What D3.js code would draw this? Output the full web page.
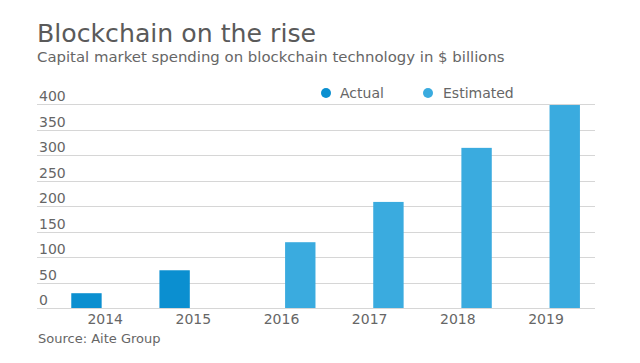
<!DOCTYPE html>
<html>
<head>
<meta charset="utf-8">
<script src="https://cdn.jsdelivr.net/npm/d3@7"></script>
<style>
  html, body { margin: 0; padding: 0; background: #fff; }
  svg { display: block; font-family: "DejaVu Sans", Verdana, sans-serif; }
</style>
</head>
<body>
<svg id="chart" width="640" height="363"></svg>
<script>
// --- Data ---
const years = ['2014', '2015', '2016', '2017', '2018', '2019'];
const series = ['Actual', 'Estimated'];
const actual = [29, 74, null, null, null, null];
const estimated = [null, null, 129, 208, 314, 398];
const yTicks = [0, 50, 100, 150, 200, 250, 300, 350, 400];
const colors = { Actual: '#0b8fd0', Estimated: '#3aabdf' };

const plot = { left: 37, right: 595, top: 104, bottom: 308 };

const svg = d3.select('#chart');

// --- Titles ---
svg.append('text')
  .attr('x', 37).attr('y', 42)
  .attr('font-size', 25.2).attr('fill', '#5a5a5a')
  .text('Blockchain on the rise');

svg.append('text')
  .attr('x', 37).attr('y', 62)
  .attr('font-size', 14.9).attr('fill', '#666')
  .text('Capital market spending on blockchain technology in $ billions');

// --- Scales ---
const x = d3.scaleBand().domain(years).range([plot.left, plot.right])
  .paddingInner(0).paddingOuter(0.165).align(0.83);
const xs = d3.scaleBand().domain(series).range([0, x.bandwidth()])
  .paddingInner(0.19).paddingOuter(0.27);
const y = d3.scaleLinear().domain([0, 400]).range([plot.bottom, plot.top]);

// --- Grid + y labels ---
const grid = svg.append('g');
grid.selectAll('line').data(yTicks).join('line')
  .attr('x1', plot.left).attr('x2', plot.right)
  .attr('y1', d => Math.round(y(d)) + 0.5).attr('y2', d => Math.round(y(d)) + 0.5)
  .attr('stroke', '#d6d6d6').attr('stroke-width', 1);

grid.selectAll('text').data(yTicks).join('text')
  .attr('x', 39).attr('y', d => y(d) - 3)
  .attr('font-size', 14).attr('fill', '#666')
  .text(d => d);

// --- Bars ---
const rows = years.map((yr, i) => ({ year: yr, Actual: actual[i], Estimated: estimated[i] }));
const groups = svg.append('g').selectAll('g').data(rows).join('g')
  .attr('transform', d => `translate(${x(d.year)},0)`);

groups.selectAll('rect')
  .data(d => series.filter(s => d[s] != null).map(s => ({ key: s, value: d[s] })))
  .join('rect')
  .attr('x', d => xs(d.key))
  .attr('width', xs.bandwidth())
  .attr('y', d => y(d.value))
  .attr('height', d => y(0) - y(d.value))
  .attr('fill', d => colors[d.key]);

// --- X axis labels ---
svg.append('g').selectAll('text').data(years).join('text')
  .attr('x', d => x(d) + x.bandwidth() / 2)
  .attr('y', 324)
  .attr('text-anchor', 'middle')
  .attr('font-size', 14).attr('fill', '#666')
  .text(d => d);

// --- Legend ---
const legendPos = [{ key: 'Actual', cx: 326, tx: 340 }, { key: 'Estimated', cx: 428, tx: 443 }];
const legend = svg.append('g').selectAll('g').data(legendPos).join('g');
legend.append('circle')
  .attr('cx', d => d.cx).attr('cy', 93).attr('r', 5)
  .attr('fill', d => colors[d.key]);
legend.append('text')
  .attr('x', d => d.tx).attr('y', 98)
  .attr('font-size', 14).attr('fill', '#666')
  .text(d => d.key);

// --- Source ---
svg.append('text')
  .attr('x', 38).attr('y', 343)
  .attr('font-size', 13).attr('fill', '#666')
  .text('Source: Aite Group');
</script>
</body>
</html>
